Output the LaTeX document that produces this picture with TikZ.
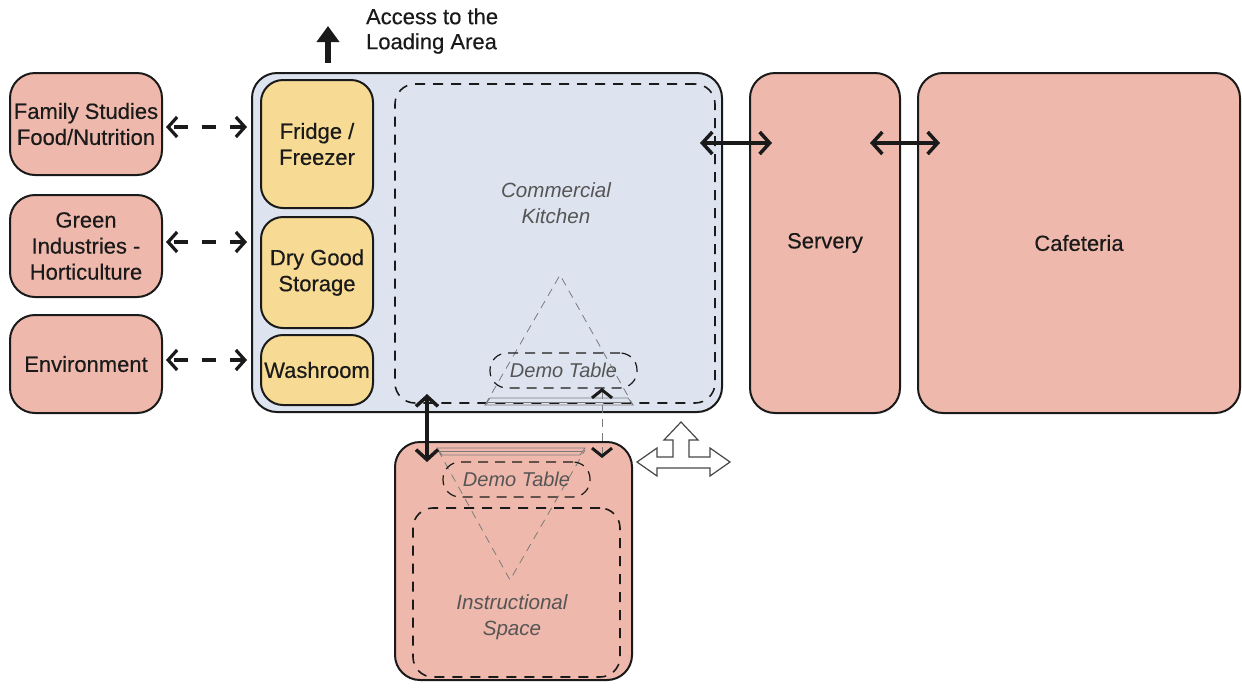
\documentclass[tikz,border=0pt]{standalone}
\usepackage{fontspec}
\setmainfont{Liberation Sans}
\newfontfamily\labelfont[FakeBold=0.4]{Liberation Sans}
\usetikzlibrary{arrows.meta,calc}

\definecolor{salmon}{HTML}{EFB8AC}
\definecolor{kitblue}{HTML}{DDE4F0}
\definecolor{store}{HTML}{F7DA94}
\definecolor{ink}{HTML}{1A1A1A}
\definecolor{soft}{HTML}{555555}
\definecolor{guide}{HTML}{7A7A7A}

\tikzset{
  room/.style={draw=ink, line width=1pt, rounded corners=12.5pt, align=center,
               font=\labelfont\fontsize{11}{13}\selectfont, text=ink, inner sep=0pt},
  dept/.style={room, fill=salmon},
  storebox/.style={room, fill=store, rounded corners=11pt},
  zone/.style={draw=ink, line width=0.8pt, dash pattern=on 5pt off 4pt,
               rounded corners=10pt, inner sep=0pt},
  tablezone/.style={draw=ink, line width=0.6pt, dash pattern=on 5pt off 3.5pt,
               rounded corners=8.5pt, inner sep=0pt, text=soft,
               font=\itshape\fontsize{10}{12}\selectfont},
  areatext/.style={text=soft, align=center, font=\itshape\fontsize{10.3}{13}\selectfont},
  barb/.tip={Straight Barb[length=5pt,width=11pt]},
  smallbarb/.tip={Straight Barb[length=4.5pt,width=10pt]},
  link/.style={draw=ink, line width=1.75pt, barb-barb},
  dashlink/.style={draw=ink, line width=1.6pt, dash pattern=on 7pt off 7pt, dash phase=-2pt,
               smallbarb-smallbarb},
  viewlink/.style={draw=guide, line width=0.4pt, dash pattern=on 4pt off 3pt,
               {Straight Barb[length=4pt,width=10pt,line width=1.5pt,color=ink]}-{Straight Barb[length=4pt,width=10pt,line width=1.5pt,color=ink]}},
  sightline/.style={draw=guide, line width=0.4pt, dash pattern=on 4pt off 3pt},
  tableedge/.style={draw=guide, line width=0.4pt},
  hollow/.style={draw=ink!80, line width=0.6pt, fill=white, line join=miter},
}

\begin{document}
\begin{tikzpicture}[x=0.5pt,y=-0.5pt]
\useasboundingbox (0,0) rectangle (1242,687);
\fill[white] (0,0) rectangle (1242,687);

% departments on the left
\node[dept, minimum width=76pt, minimum height=51pt] (fam) at (86,124)
  {Family Studies\\Food/Nutrition};
\node[dept, minimum width=76pt, minimum height=51pt] (green) at (86,246)
  {Green\\Industries -\\Horticulture};
\node[dept, minimum width=76pt, minimum height=49pt] (env) at (86,364)
  {Environment};

% commercial kitchen block
\node[room, fill=kitblue, minimum width=235pt, minimum height=169.5pt] (kit) at (487,242.5) {};
\node[storebox, minimum width=56pt, minimum height=64pt] (fridge) at (317,144) {Fridge /\\Freezer};
\node[storebox, minimum width=56pt, minimum height=55.5pt] (dry) at (317,272.5) {Dry Good\\Storage};
\node[storebox, minimum width=56pt, minimum height=35pt] (wash) at (317,370) {Washroom};
\node[zone, minimum width=160pt, minimum height=159.5pt] (kzone) at (555,243.5) {};
\node[areatext] (ktext) at (556,203) {Commercial\\Kitchen};

% servery and cafeteria
\node[dept, minimum width=75pt, minimum height=170pt] (serv) at (825,243) {Servery};
\node[dept, minimum width=161pt, minimum height=170pt] (caf) at (1079,243) {Cafeteria};

% instructional space
\node[dept, minimum width=118.5pt, minimum height=119pt] (instr) at (513.5,561) {};
\node[zone, minimum width=103.5pt, minimum height=84.5pt] (izone) at (516.5,592.5) {};
\node[areatext] (itext) at (512,617) {Instructional\\Space};

% sight-line triangles of the two demo tables
\coordinate (ka) at (560,275);
\coordinate (kl) at (485,405);
\coordinate (kr) at (633,405);
\draw[sightline] (kl) -- (ka) -- (kr);
\draw[tableedge] (485,405) -- (490,398) -- (628,398) -- (633,405) -- cycle;
\draw[tableedge] (488,402) -- (630,402);

\coordinate (ia) at (510,580);
\coordinate (il) at (438,450);
\coordinate (ir) at (585,450);
\draw[sightline] (il) -- (ia) -- (ir);
\draw[tableedge] (437,448) -- (585,448) -- (580,455) -- (442,455) -- cycle;
\draw[tableedge] (440,451.5) -- (582,451.5);

\node[tablezone, minimum width=73.5pt, minimum height=17.5pt] (ktable) at (563.5,370.5) {Demo Table};
\node[tablezone, minimum width=73.5pt, minimum height=17.5pt] (itable) at (516.5,479.5) {Demo Table};

% access to the loading area
\coordinate (acc0) at (328,63);
\coordinate (acc1) at (328,26);
\draw[ink, line width=2.6pt, -{Triangle[length=8pt,width=11pt]}] (acc0) -- (acc1);
\node[anchor=west, align=left, text=ink, font=\labelfont\fontsize{11}{12.5}\selectfont] (acctext) at (359,31)
  {Access to the\\Loading Area};

% links from the departments to the kitchen stores
\draw[dashlink] ($(fam.east)+(3,3)$) -- ($(fam.east -| kit.west)+(-4,3)$);
\draw[dashlink] ($(green.east)+(3,-4)$) -- ($(green.east -| kit.west)+(-4,-4)$);
\draw[dashlink] ($(env.east)+(3,-4)$) -- ($(env.east -| kit.west)+(-4,-4)$);

% kitchen -- servery -- cafeteria
\coordinate (ks0) at (700,143);
\coordinate (ks1) at (772,143);
\coordinate (sc0) at (870,143);
\coordinate (sc1) at (940,143);
\draw[link] (ks0) -- (ks1);
\draw[link] (sc0) -- (sc1);

% kitchen -- instructional space
\coordinate (ki0) at (427,394);
\coordinate (ki1) at (427,462);
\draw[link] (ki0) -- (ki1);
\coordinate (kt0) at (602,388);
\coordinate (kt1) at (602,458);
\draw[viewlink] (kt0) -- (kt1);

% three-way open arrow
\draw[hollow] (637,462) -- (657,448) -- (657,457) -- (673,457) -- (673,440) -- (664,440)
  -- (681,422) -- (698,440) -- (689,440) -- (689,457) -- (710,457) -- (710,448)
  -- (730,462) -- (710,476) -- (710,468) -- (657,468) -- (657,476) -- cycle;
\end{tikzpicture}
\end{document}
